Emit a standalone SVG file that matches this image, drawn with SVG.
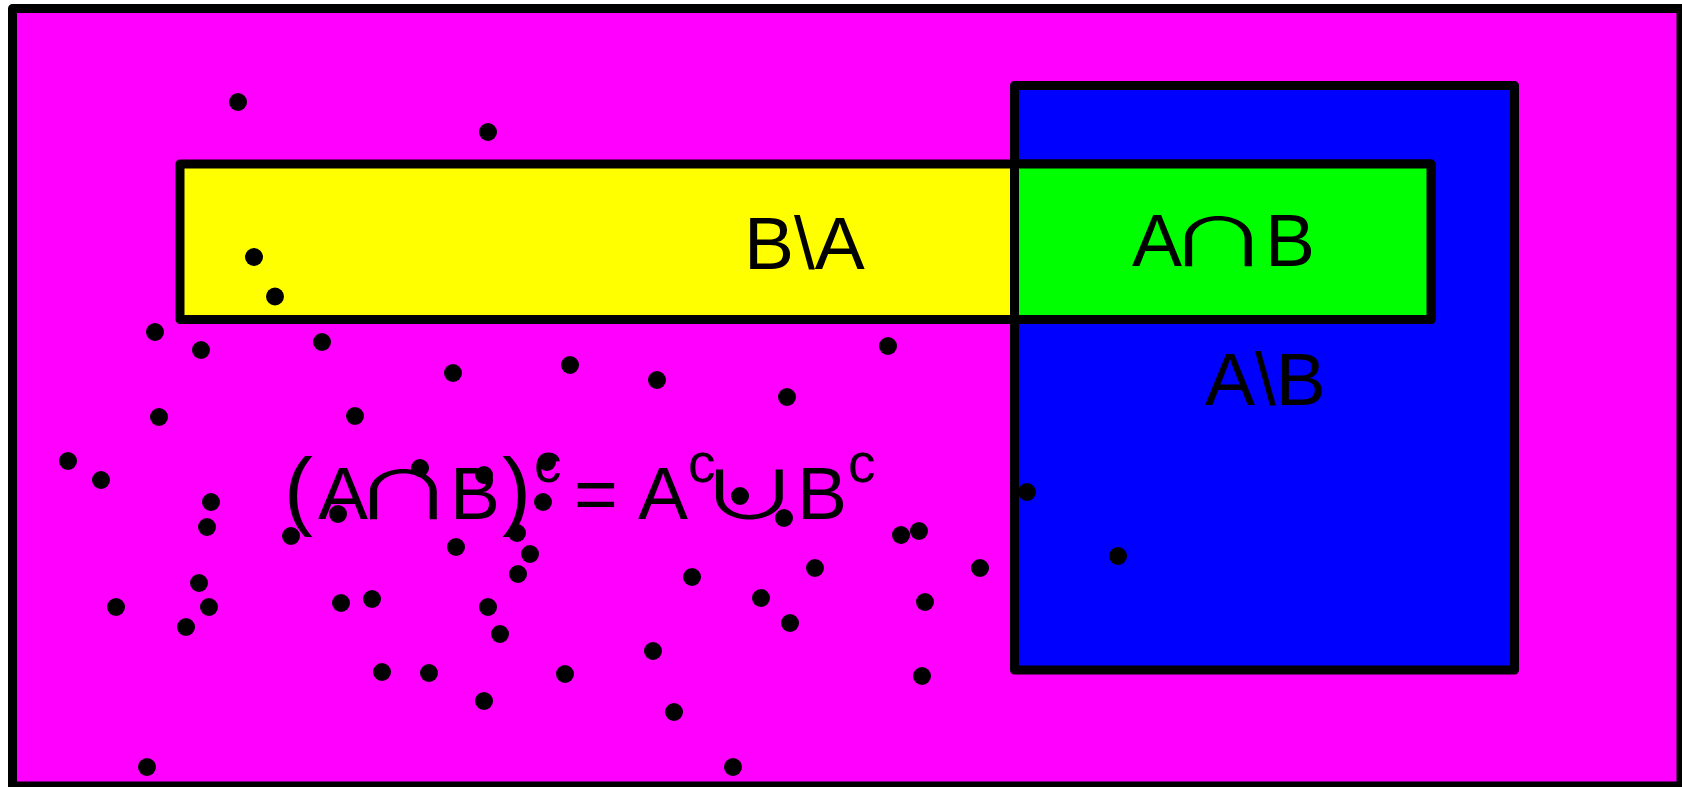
<svg xmlns="http://www.w3.org/2000/svg" width="1682" height="787" viewBox="0 0 1682 787">
<style>
.box{stroke:#000;stroke-width:9;stroke-linejoin:round}
.t{font-family:"Liberation Sans",Arial,sans-serif;font-size:75px;fill:#000}
.sym{font-family:"Noto Sans CJK JP","DejaVu Sans",sans-serif;font-size:88px;font-weight:400;fill:#000;text-anchor:middle}
.sup{font-size:55px}
.par{font-size:87px}
.dots circle{fill:#000}
</style>
<rect width="1682" height="787" fill="#fff"/>
<g id="universe">
<rect class="box" x="12.5" y="8.5" width="1668.5" height="777.5" fill="#ff00ff"/>
</g>
<g id="setA">
<rect class="box" x="1014.5" y="85.5" width="500" height="584.5" fill="#0000ff"/>
</g>
<g id="setB">
<rect class="box" x="180" y="164" width="1251" height="155.5" fill="#ffff00"/>
</g>
<g id="intersection">
<rect class="box" x="1014.5" y="164" width="416.5" height="155.5" fill="#00ff00"/>
</g>
<g id="labels">
<text class="t" x="744" y="269">B\A</text>
<text class="t" y="266"><tspan x="1132">A</tspan><tspan x="1265">B</tspan></text>
<text class="sym" transform="translate(1218.5 266) scale(1.18 0.75)">∩</text>
<text class="t" x="1205" y="405">A\B</text>
<text class="t" y="519"><tspan class="par" x="284">(</tspan><tspan x="318">A</tspan><tspan x="450">B</tspan><tspan class="par" x="502">)</tspan><tspan class="sup" x="534" y="482">c</tspan><tspan x="574" y="519">=</tspan><tspan x="638">A</tspan><tspan class="sup" x="688" y="482">c</tspan><tspan x="797" y="519">B</tspan><tspan class="sup" x="848" y="482">c</tspan></text>
<text class="sym" transform="translate(403.3 519) scale(1.18 0.75)">∩</text>
<text class="sym" transform="translate(749.3 519) scale(1.18 0.75)">∪</text>
</g>
<g id="points" class="dots">
<circle cx="238" cy="102" r="9"/><circle cx="488" cy="132" r="9"/><circle cx="254" cy="257" r="9"/><circle cx="275" cy="296.5" r="9"/>
<circle cx="155" cy="332" r="9"/><circle cx="201" cy="350" r="9"/><circle cx="322" cy="342" r="9"/><circle cx="453" cy="373" r="9"/>
<circle cx="570" cy="365" r="9"/><circle cx="657" cy="380" r="9"/><circle cx="787" cy="397" r="9"/><circle cx="888" cy="346" r="9"/>
<circle cx="159" cy="417" r="9"/><circle cx="355" cy="416" r="9"/><circle cx="68" cy="461" r="9"/><circle cx="101" cy="480" r="9"/>
<circle cx="211" cy="502" r="9"/><circle cx="207" cy="527" r="9"/><circle cx="291" cy="536" r="9"/><circle cx="338" cy="514" r="9"/>
<circle cx="420" cy="468" r="9"/><circle cx="484" cy="475" r="9"/><circle cx="547" cy="462" r="9"/><circle cx="543" cy="502" r="9"/>
<circle cx="517" cy="533" r="9"/><circle cx="530" cy="554" r="9"/><circle cx="518" cy="574" r="9"/><circle cx="456" cy="547" r="9"/>
<circle cx="740" cy="496" r="9"/><circle cx="784" cy="518" r="9"/><circle cx="1027" cy="492" r="9"/><circle cx="901" cy="535" r="9"/>
<circle cx="919" cy="531" r="9"/><circle cx="815" cy="568" r="9"/><circle cx="692" cy="577" r="9"/><circle cx="980" cy="568" r="9"/>
<circle cx="1118" cy="556" r="9"/><circle cx="761" cy="598" r="9"/><circle cx="790" cy="623" r="9"/><circle cx="925" cy="602" r="9"/>
<circle cx="199" cy="583" r="9"/><circle cx="116" cy="607" r="9"/><circle cx="209" cy="607" r="9"/><circle cx="186" cy="627" r="9"/>
<circle cx="341" cy="603" r="9"/><circle cx="372" cy="599" r="9"/><circle cx="488" cy="607" r="9"/><circle cx="500" cy="634" r="9"/>
<circle cx="653" cy="651" r="9"/><circle cx="382" cy="672" r="9"/><circle cx="429" cy="673" r="9"/><circle cx="565" cy="674" r="9"/>
<circle cx="922" cy="676" r="9"/><circle cx="484" cy="701" r="9"/><circle cx="674" cy="712" r="9"/><circle cx="147" cy="767" r="9"/>
<circle cx="733" cy="767" r="9"/>
</g>
</svg>
